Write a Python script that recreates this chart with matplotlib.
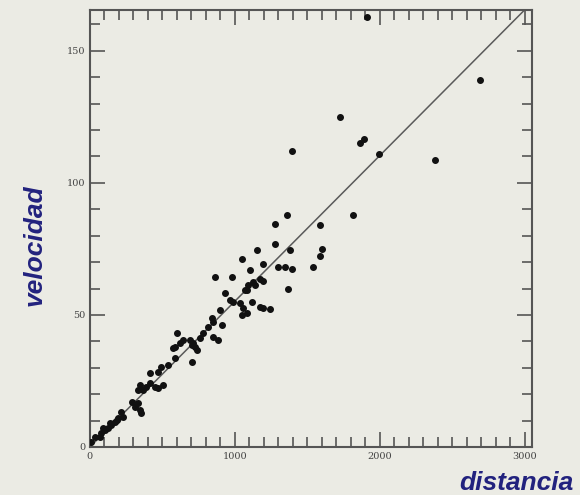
import numpy as np
import matplotlib
matplotlib.use('Agg')
import matplotlib.pyplot as plt
from matplotlib.ticker import MultipleLocator

# distance / velocity
distancia = [1910, 2690, 1724, 1393, 1862, 1890, 1993, 2379, 1356, 1816,
             1276, 1586, 1276, 1149, 1379, 1598, 1586, 1046, 1195, 1103,
             1299, 1345, 1391, 1540, 977, 862, 1124, 1172, 1090, 1195,
             1368, 1069, 1138, 1081, 931, 966, 989, 1034, 1057, 1081,
             1046, 1115, 1172, 1241, 1195, 897, 839, 850, 908, 816,
             781, 759, 850, 885, 712, 736, 643, 598, 586, 690,
             701, 724, 701, 572, 619, 584, 538, 492, 469, 414,
             343, 331, 366, 388, 412, 446, 469, 503, 331, 343,
             354, 287, 310, 216, 228, 193, 170, 147, 124, 101,
             78, 67, 184, 138, 92, 34, 10]
velocidad = [163, 139, 125, 112, 115, 116.5, 111, 108.5, 88, 88,
             84.5, 84, 77, 74.4, 74.4, 75, 72.5, 71.2, 69.3, 67,
             68.3, 68, 67.4, 68.3, 64.3, 64.3, 62.5, 63.6, 61.5, 62.9,
             60, 59.5, 61.4, 59.5, 58.2, 55.7, 55, 54.4, 52.5, 50.6,
             50, 55, 53.1, 52.2, 52.5, 51.9, 48.7, 47.5, 46.2, 45.6,
             43, 41.2, 41.8, 40.5, 39.3, 36.7, 40.5, 43, 38, 40.5,
             38.6, 38, 32.3, 37.4, 39.3, 33.6, 31, 30.4, 28.5, 27.9,
             23.5, 21.6, 21.6, 22.8, 24.1, 22.8, 22.2, 23.5, 16.6, 14,
             12.7, 17.2, 15.3, 13.4, 11.5, 10.9, 9.6, 8.3, 7.1, 6.4,
             5.2, 3.9, 10.2, 9, 7.1, 3.9, 2]
pendiente = 0.0552
xticks = [0, 1000, 2000, 3000]
yticks = [0, 50, 100, 150]

bg = '#ebebe4'
azul = '#22227e'
gris = '#555555'

f = plt.figure(figsize=(5.8, 4.95), dpi=100, facecolor=bg)
ax = f.add_axes([0.155, 0.097, 0.762, 0.883], facecolor=bg)

xl = np.array([0, 3048])
ax.plot(xl, pendiente*xl, '-', color='#5a5a5a', lw=1.1, zorder=2)
ax.scatter(distancia, velocidad, s=16, color='#111111', zorder=3)

ax.set_xlim(0, 3048)
ax.set_ylim(0, 165.5)
ax.set_xticks(xticks)
ax.set_yticks(yticks)
ax.xaxis.set_minor_locator(MultipleLocator(100))
ax.yaxis.set_minor_locator(MultipleLocator(10))
ax.tick_params(which='both', direction='in', top=True, right=True,
               color=gris, width=1.2, labelsize=7, labelcolor='#444444')
ax.tick_params(which='major', length=11)
ax.tick_params(which='minor', length=7)
for lab in ax.get_xticklabels() + ax.get_yticklabels():
    lab.set_family('DejaVu Serif')
for s in ax.spines.values():
    s.set_color(gris)
    s.set_linewidth(1.5)

f.text(0.06, 0.505, 'velocidad', rotation=90, ha='center', va='center',
       fontsize=19, fontweight='bold', fontstyle='italic', color=azul,
       family='Liberation Sans')
f.text(0.89, 0.024, 'distancia', ha='center', va='center',
       fontsize=19, fontweight='bold', fontstyle='italic', color=azul,
       family='Liberation Sans')

f.savefig('out.png', dpi=100, facecolor=bg)
